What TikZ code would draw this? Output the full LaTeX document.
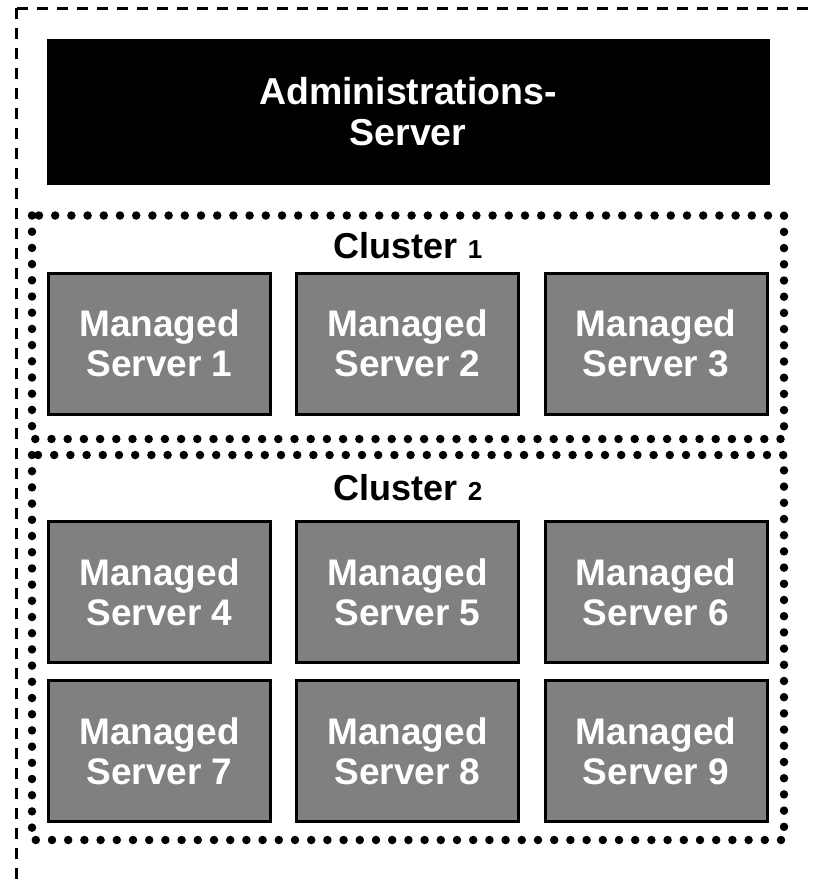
\documentclass[tikz,border=0pt]{standalone}
\usepackage{fontspec}
\setmainfont{Liberation Sans}
\begin{document}
\begin{tikzpicture}[x=1pt,y=-1pt,
  msbox/.style={draw=black, line width=3pt, fill={rgb,255:red,128;green,128;blue,128},
    minimum width=222pt, minimum height=141pt, inner sep=0pt, text=white,
    font=\fontsize{37}{40}\selectfont\bfseries, align=center},
  adminbox/.style={draw=black, fill=black, minimum width=722pt, minimum height=145pt,
    inner sep=0pt, text=white, font=\fontsize{37.5}{41}\selectfont\bfseries, align=center},
  dotline/.style={draw=black, line width=8.5pt, line cap=round, dash pattern=on 0pt off 16.2pt},
  dashline/.style={draw=black, line width=3pt, dash pattern=on 11pt off 9pt},
  clabel/.style={inner sep=0pt, anchor=base, font=\fontsize{36}{40}\selectfont\bfseries}
]
\useasboundingbox (0,0) rectangle (812,884);
\clip (0,0) rectangle (812,884);
\draw[dashline] (16,8) rectangle (840,910);

\node[adminbox] (admin) at (408,111.5) {Administrations-\\Server};

\draw[dotline] (32,215.5) rectangle (784,439);
\draw[dotline] (32,455) rectangle (784,840);
\coordinate (c1) at (408,258);
\coordinate (c2) at (408,500);
\node[clabel] (c1lab) at (c1) {Cluster {\fontsize{26}{30}\selectfont 1}};
\node[clabel] (c2lab) at (c2) {Cluster {\fontsize{26}{30}\selectfont 2}};

\node[msbox] (ms1) at (159.5,343.5) {Managed\\Server 1};
\node[msbox] (ms2) at (407.5,343.5) {Managed\\Server 2};
\node[msbox] (ms3) at (656,343.5) {Managed\\Server 3};
\node[msbox] (ms4) at (159.5,592) {Managed\\Server 4};
\node[msbox] (ms5) at (407.5,592) {Managed\\Server 5};
\node[msbox] (ms6) at (656,592) {Managed\\Server 6};
\node[msbox] (ms7) at (159.5,751) {Managed\\Server 7};
\node[msbox] (ms8) at (407.5,751) {Managed\\Server 8};
\node[msbox] (ms9) at (656,751) {Managed\\Server 9};
\end{tikzpicture}
\end{document}
